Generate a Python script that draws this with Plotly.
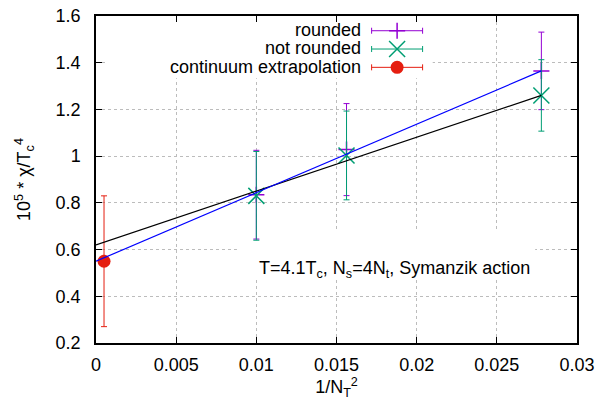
import plotly.graph_objects as go

# ---- data ----
inv_nt2 = [0.01, 0.015625, 0.027778]
rounded = [0.835, 1.028, 1.365]
rounded_err = [0.19, 0.197, 0.166]
not_rounded = [0.83, 1.003, 1.26]
not_rounded_err = [0.19, 0.19, 0.153]
cont_x = [0.0005]
cont_y = [0.55]
cont_err = [0.28]
fit_x = [0.0, 0.027778]
fit_rounded = [0.55, 1.365]
fit_not_rounded = [0.62, 1.26]

x_ticks = [0, 0.005, 0.01, 0.015, 0.02, 0.025, 0.03]
x_ticktext = ["0", "0.005", "0.01", "0.015", "0.02", "0.025", "0.03"]
y_ticks = [0.2, 0.4, 0.6, 0.8, 1.0, 1.2, 1.4, 1.6]
y_ticktext = ["0.2", "0.4", "0.6", "0.8", "1", "1.2", "1.4", "1.6"]

legend_names = ["rounded", "not rounded", "continuum extrapolation"]

PURPLE = "#9400D3"
GREEN = "#009E73"
RED = "#E51E10"
FONT = "Liberation Sans"
FS = 18

X0, X1 = 0.0, 0.03
Y0, Y1 = 0.2, 1.6


def fx(f):
    return X0 + f * (X1 - X0)


def fy(f):
    return Y0 + f * (Y1 - Y0)


fig = go.Figure()

# data points with error bars
fig.add_trace(go.Scatter(
    x=inv_nt2, y=rounded, mode="markers",
    marker=dict(symbol="cross-thin", size=11.5, line=dict(color=PURPLE, width=1.5), color=PURPLE),
    error_y=dict(type="data", array=rounded_err, color=PURPLE, thickness=1, width=3),
    showlegend=False))
fig.add_trace(go.Scatter(
    x=inv_nt2, y=not_rounded, mode="markers",
    marker=dict(symbol="x-thin", size=16, line=dict(color=GREEN, width=1.5), color=GREEN),
    error_y=dict(type="data", array=not_rounded_err, color=GREEN, thickness=1, width=3),
    showlegend=False))
fig.add_trace(go.Scatter(
    x=cont_x, y=cont_y, mode="markers",
    marker=dict(symbol="circle", size=13, color=RED),
    error_y=dict(type="data", array=cont_err, color=RED, thickness=1, width=3),
    showlegend=False))

# fit lines
fig.add_trace(go.Scatter(x=fit_x, y=fit_not_rounded, mode="lines",
                         line=dict(color="black", width=1.2), showlegend=False))
fig.add_trace(go.Scatter(x=fit_x, y=fit_rounded, mode="lines",
                         line=dict(color="#0000FF", width=1.2), showlegend=False))

# ---- gnuplot-style key (text on the left, sample on the right) ----
key_x = 0.626
key_half = 0.053
key_rows = [0.955, 0.899, 0.843]
key_styles = [
    dict(symbol="cross-thin", size=11.5, line=dict(color=PURPLE, width=1.5), color=PURPLE),
    dict(symbol="x-thin", size=16, line=dict(color=GREEN, width=1.5), color=GREEN),
    dict(symbol="circle", size=13, color=RED),
]
key_colors = [PURPLE, GREEN, RED]
for name, yy, st, col in zip(legend_names, key_rows, key_styles, key_colors):
    fig.add_trace(go.Scatter(
        x=[fx(key_x)], y=[fy(yy)], mode="markers", marker=st,
        error_x=dict(type="constant", value=key_half * (X1 - X0), color=col, thickness=1, width=3),
        showlegend=False, hoverinfo="skip"))
    fig.add_annotation(x=0.555, y=yy + 0.004, xref="paper", yref="paper", text=name,
                       showarrow=False, xanchor="right", yanchor="middle", height=17,
                       font=dict(family=FONT, size=FS, color="black"))

# opaque boxes (key and label) hiding grid lines
fig.add_shape(type="rect", xref="x", yref="y", x0=fx(0.023), x1=fx(0.70), y0=fy(0.81), y1=fy(1.0),
              fillcolor="white", line=dict(width=0), layer="between")
fig.add_shape(type="rect", xref="x", yref="y", x0=fx(0.293), x1=fx(0.913), y0=fy(0.20), y1=fy(0.34),
              fillcolor="white", line=dict(width=0), layer="between")

fig.add_annotation(x=0.335, y=0.225, xref="paper", yref="paper",
                   text="T=4.1T<sub>c</sub>, N<sub>s</sub>=4N<sub>t</sub>, Symanzik action",
                   showarrow=False, xanchor="left", yanchor="middle",
                   font=dict(family=FONT, size=FS, color="black"))

axis_common = dict(showline=True, linecolor="black", linewidth=1.5, mirror="ticks",
                   ticks="inside", ticklen=6, tickcolor="black", tickwidth=1,
                   showgrid=True, gridcolor="#bcbcbc", griddash="dot", gridwidth=1,
                   zeroline=False, tickfont=dict(family=FONT, size=FS, color="black"))

fig.update_layout(
    width=600, height=400,
    margin=dict(l=96, r=23, t=16, b=57, autoexpand=False),
    paper_bgcolor="white", plot_bgcolor="white",
    font=dict(family=FONT, size=FS, color="black"),
    showlegend=False,
    xaxis=dict(range=[X0, X1], tickvals=x_ticks, ticktext=x_ticktext, automargin=False,
               title=dict(text="1/N<sub>T</sub><sup>2</sup>", standoff=3,
                          font=dict(family=FONT, size=FS)),
               ticklabelstandoff=5, **axis_common),
    yaxis=dict(range=[Y0, Y1], tickvals=y_ticks, ticktext=y_ticktext, automargin=False,
               title=dict(text="10<sup>5</sup> * χ/T<sub>c</sub><sup>4</sup>", standoff=20,
                          font=dict(family=FONT, size=FS)),
               ticklabelstandoff=10, **axis_common),
)

fig.write_html("out.html", config={"displayModeBar": False},
               post_script="document.body.style.margin='0px';document.body.style.overflow='hidden';")
